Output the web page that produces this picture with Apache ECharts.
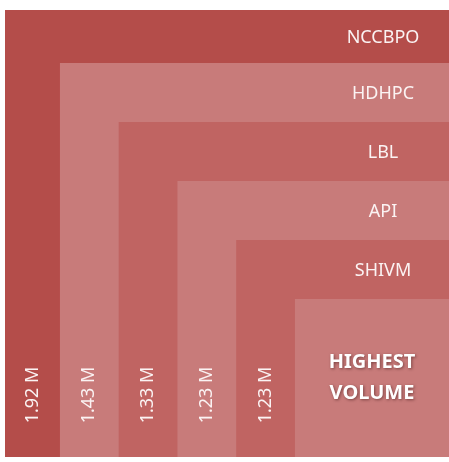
<!DOCTYPE html>
<html>
<head>
<meta charset="utf-8">
<script src="https://cdn.jsdelivr.net/npm/echarts@6/dist/echarts.min.js"></script>
<style>html,body{margin:0;padding:0;background:#fff}#c{width:449px;height:462px}</style>
</head>
<body>
<div id="c"></div>
<script>
// Data
var categories = ['NCCBPO', 'HDHPC', 'LBL', 'API', 'SHIVM', 'HIGHEST VOLUME'];
var valueLabels = ['1.92 M', '1.43 M', '1.33 M', '1.23 M', '1.23 M', ''];
var levels = [0, 1, 2, 3, 4, 5];
var colors = ['#B44D4A', '#C87B7A', '#C06462', '#C87B7A', '#C06462', '#C87B7A'];

var chart = echarts.init(document.getElementById('c'), null, {renderer: 'canvas'});
var font = '"Noto Sans", "Open Sans", sans-serif';

var X_MIN = 0.065, X_MAX = 7.622, Y_MIN = 0.1, Y_MAX = 7.676;

function renderItem(params, api) {
  var lvl = api.value(0);
  var idx = params.dataIndex;
  var cs = params.coordSys;
  var tl = api.coord([lvl, lvl]);
  var left = Math.max(tl[0], cs.x);
  var top = Math.max(tl[1], cs.y);
  var br = api.coord([X_MAX, Y_MAX]);
  var next = api.coord([lvl + 1, lvl + 1]);
  var children = [{
    type: 'rect',
    shape: {x: left, y: top, width: br[0] - left, height: br[1] - top},
    style: {fill: colors[idx]}
  }];
  var last = idx === categories.length - 1;
  if (!last) {
    children.push({
      type: 'text',
      x: br[0] - 66, y: (top + next[1]) / 2 + 1,
      style: {text: categories[idx], fill: '#FBF3F3', font: '18px ' + font,
        align: 'center', verticalAlign: 'middle'}
    });
    children.push({
      type: 'text',
      x: (left + next[0]) / 2, y: br[1] - 62,
      rotation: Math.PI / 2,
      style: {text: valueLabels[idx], fill: '#FBF3F3', font: '18px ' + font,
        align: 'center', verticalAlign: 'middle'}
    });
  } else {
    children.push({
      type: 'text',
      x: (left + br[0]) / 2, y: (top + br[1]) / 2,
      style: {text: 'HIGHEST\nVOLUME', fill: '#FFFFFF', font: 'bold 20px ' + font,
        align: 'center', verticalAlign: 'middle', lineHeight: 31,
        textShadowColor: 'rgba(60,20,20,0.55)', textShadowBlur: 3,
        textShadowOffsetX: 1, textShadowOffsetY: 1}
    });
  }
  return {type: 'group', children: children};
}

chart.setOption({
  animation: false,
  grid: {left: 5, right: 0, top: 10, bottom: 5},
  xAxis: {type: 'value', min: X_MIN, max: X_MAX, show: false},
  yAxis: {type: 'value', min: Y_MIN, max: Y_MAX, inverse: true, show: false},
  series: [{
    type: 'custom',
    renderItem: renderItem,
    data: levels.map(function (l) { return [l]; }),
    clip: false
  }]
});
</script>
</body>
</html>
